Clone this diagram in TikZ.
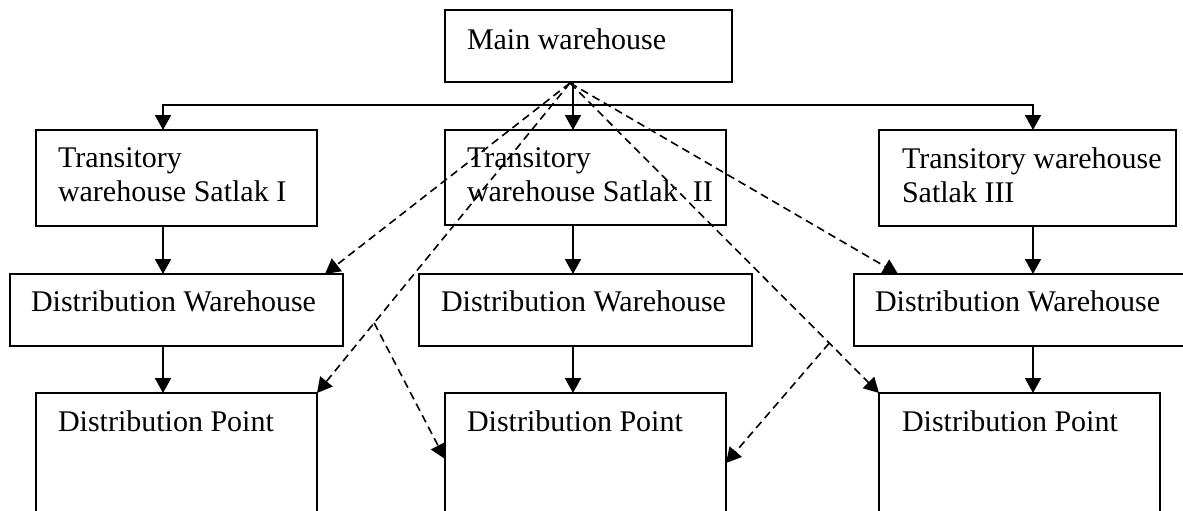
\documentclass[tikz,border=0pt]{standalone}
\usepackage{fontspec}
\setmainfont{Liberation Serif}
\usetikzlibrary{arrows.meta,calc}

\tikzset{
  box/.style={draw, line width=2pt, rectangle, anchor=north west, inner sep=0pt, outer sep=0pt},
  lbl/.style={anchor=base west, inner sep=0pt, outer sep=0pt, align=left,
              font=\fontsize{30}{34}\selectfont},
  tip/.style={Triangle[length=15pt,width=16pt]},
  flow/.style={line width=1.8pt, -{Triangle[length=15pt,width=16pt]}},
  bus/.style={line width=1.8pt, {Triangle[length=15pt,width=16pt]}-{Triangle[length=15pt,width=16pt]}},
  link/.style={line width=1.6pt, dash pattern=on 8pt off 5pt, -{Triangle[length=15pt,width=16pt]}}
}

\begin{document}
\begin{tikzpicture}[x=1pt, y=-1pt]
  \useasboundingbox (0,0) rectangle (1183,511);
  \fill[white] (0,0) rectangle (1183,511);
  \clip (0,0) rectangle (1183,511);

  % boxes
  \node[box, minimum width=287pt, minimum height=72pt] (main) at (445,10) {};
  \node[box, minimum width=281pt, minimum height=96pt] (t1) at (36,130) {};
  \node[box, minimum width=281pt, minimum height=95pt] (t2) at (445,130) {};
  \node[box, minimum width=297pt, minimum height=96pt] (t3) at (879,130) {};
  \node[box, minimum width=333pt, minimum height=72pt] (w1) at (10,274) {};
  \node[box, minimum width=333pt, minimum height=72pt] (w2) at (419,274) {};
  \node[box, minimum width=345pt, minimum height=72pt] (w3) at (854,274) {};
  \node[box, minimum width=281pt, minimum height=150pt] (p1) at (36,393) {};
  \node[box, minimum width=281pt, minimum height=150pt] (p2) at (445,393) {};
  \node[box, minimum width=281pt, minimum height=150pt] (p3) at (879,393) {};

  % labels (base anchor sits on the last line)
  \node[lbl] (lmain) at ($(main.north west)+(22,39)$) {Main warehouse};
  \node[lbl] (lt1) at ($(t1.north west)+(22,71)$) {Transitory\\warehouse Satlak I};
  \node[lbl] (lt2) at ($(t2.north west)+(22,71)$) {Transitory\\warehouse Satlak\ \ II};
  \node[lbl] (lt3) at ($(t3.north west)+(23,72)$) {Transitory warehouse\\Satlak III};
  \node[lbl] (lw1) at ($(w1.north west)+(21,37)$) {Distribution Warehouse};
  \node[lbl] (lw2) at ($(w2.north west)+(22,37)$) {Distribution Warehouse};
  \node[lbl] (lw3) at ($(w3.north west)+(21,37)$) {Distribution Warehouse};
  \node[lbl] (lp1) at ($(p1.north west)+(22,38)$) {Distribution Point};
  \node[lbl] (lp2) at ($(p2.north west)+(22,38)$) {Distribution Point};
  \node[lbl] (lp3) at ($(p3.north west)+(23,38)$) {Distribution Point};

  % column lines and distribution bus
  \coordinate (c1) at (163,105);
  \coordinate (c2) at (573,105);
  \coordinate (c3) at (1033,105);

  \draw[flow] (main.south -| c2) -- (t2.north -| c2);
  \draw[bus] (t1.north -| c1) -- (c1) -- (c3) -- (t3.north -| c3);

  \draw[flow] (t1.south -| c1) -- (w1.north -| c1);
  \draw[flow] (t2.south -| c2) -- (w2.north -| c2);
  \draw[flow] (t3.south -| c3) -- (w3.north -| c3);
  \draw[flow] (w1.south -| c1) -- (p1.north -| c1);
  \draw[flow] (w2.south -| c2) -- (p2.north -| c2);
  \draw[flow] (w3.south -| c3) -- (p3.north -| c3);

  % direct supply links from the main warehouse
  \coordinate (o) at (570,83);
  \draw[link] (o) -- ($(w1.north west)+(315,0)$);
  \draw[link] (o) -- (p1.north east);
  \draw[link] (o) -- ($(w3.north west)+(44,0)$);
  \draw[link] (o) -- (p3.north west);
  \coordinate (b1) at ($(o)!0.774!(p1.north east)$);
  \coordinate (b2) at ($(o)!0.839!(p3.north west)$);
  \draw[link] (b1) -- ($(p2.north west)+(0,66)$);
  \draw[link] (b2) -- ($(p2.north east)+(0,70)$);
\end{tikzpicture}
\end{document}
